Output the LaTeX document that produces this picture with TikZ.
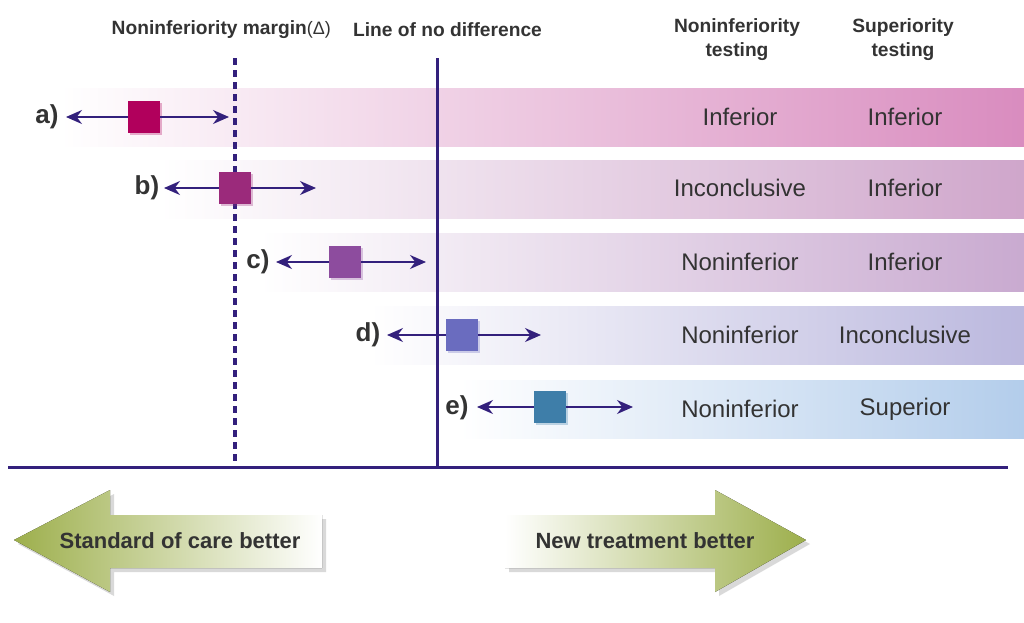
\documentclass[tikz,border=0pt]{standalone}
\usepackage{fontspec}
\setmainfont{Liberation Sans}
\usetikzlibrary{arrows.meta,shadows}
\definecolor{navy}{HTML}{33207C}
\definecolor{txt}{HTML}{333333}
\definecolor{leaf}{HTML}{9DAF4C}
\definecolor{bandA}{HTML}{D98CBF}
\definecolor{bandB}{HTML}{CFA6CB}
\definecolor{bandC}{HTML}{C9AAD0}
\definecolor{bandD}{HTML}{BBB8DE}
\definecolor{bandE}{HTML}{B3CDEB}
\definecolor{sqA}{HTML}{B1005C}
\definecolor{sqB}{HTML}{9B2A7B}
\definecolor{sqC}{HTML}{8D4C9E}
\definecolor{sqD}{HTML}{6A6CBF}
\definecolor{sqE}{HTML}{3E7EA9}
\begin{document}
\begin{tikzpicture}[x=0.5pt,y=-0.5pt,
    band/.style={left color=white,middle color=#1!35,right color=#1},
    est/.style={rectangle,inner sep=0pt,minimum size=16pt,fill=#1,
      drop shadow={shadow xshift=1.2pt,shadow yshift=-1.2pt,fill=#1,opacity=0.3}},
    ci/.style={navy,line width=0.8pt,-{Stealth[length=8pt,width=7pt]}},
    lab/.style={font=\fontsize{13}{13}\selectfont\bfseries,text=txt},
    cell/.style={font=\fontsize{12}{12}\selectfont,text=txt},
    hdr/.style={font=\fontsize{9.6}{12}\selectfont\bfseries,text=txt,align=center},
    big/.style={font=\fontsize{11}{12}\selectfont\bfseries,text=txt},
    bigarrow/.style={drop shadow={shadow xshift=2pt,shadow yshift=-2pt,fill=black,opacity=0.15}}
  ]
  \useasboundingbox (0,0) rectangle (1024,622);

  % bands
  \fill[band=bandA] (60,88) rectangle (1024,146);
  \fill[band=bandB] (160,160) rectangle (1024,218);
  \fill[band=bandC] (260,233) rectangle (1024,291);
  \fill[band=bandD] (370,306) rectangle (1024,364);
  \fill[band=bandE] (460,380) rectangle (1024,438);

  % headers
  \node[hdr,anchor=east] (hmargin) at (338,30) {Noninferiority margin{\mdseries\fontsize{9}{12}\selectfont(Δ)}};
  \node[hdr,anchor=west] (hline) at (346,30) {Line of no difference};
  \node[hdr] (hni) at (737,40) {Noninferiority\\testing};
  \node[hdr] (hsup) at (903,40) {Superiority\\testing};

  % margin, line of no difference, axis
  \coordinate (mTop) at (235,58);
  \coordinate (mBot) at (235,467);
  \coordinate (nTop) at (437,58);
  \coordinate (nBot) at (437,467);
  \coordinate (axL) at (8,467);
  \coordinate (axR) at (1008,467);
  \draw[navy,line width=1.6pt,dash pattern=on 3.5pt off 2.5pt] (mTop) -- (mBot);
  \draw[navy,line width=1.5pt] (nTop) -- (nBot);
  \draw[navy,line width=1.5pt] (axL) -- (axR);

  % a)
  \node[lab] (la) at (47,117) {a)};
  \node[est=sqA] (a) at (144,117) {};
  \coordinate (aL) at (66,117);
  \coordinate (aR) at (229,117);
  \draw[ci] (a) -- (aL);
  \draw[ci] (a) -- (aR);
  \node[cell] (aNI) at (740,117) {Inferior};
  \node[cell] (aSup) at (905,117) {Inferior};

  % b)
  \node[lab] (lb) at (147,188) {b)};
  \node[est=sqB] (b) at (235,188) {};
  \coordinate (bL) at (164,188);
  \coordinate (bR) at (316,188);
  \draw[ci] (b) -- (bL);
  \draw[ci] (b) -- (bR);
  \node[cell] (bNI) at (740,188) {Inconclusive};
  \node[cell] (bSup) at (905,188) {Inferior};

  % c)
  \node[lab] (lc) at (258,262) {c)};
  \node[est=sqC] (c) at (345,262) {};
  \coordinate (cL) at (276,262);
  \coordinate (cR) at (426,262);
  \draw[ci] (c) -- (cL);
  \draw[ci] (c) -- (cR);
  \node[cell] (cNI) at (740,262) {Noninferior};
  \node[cell] (cSup) at (905,262) {Inferior};

  % d)
  \node[lab] (ld) at (368,335) {d)};
  \node[est=sqD] (d) at (462,335) {};
  \coordinate (dL) at (387,335);
  \coordinate (dR) at (541,335);
  \draw[ci] (d) -- (dL);
  \draw[ci] (d) -- (dR);
  \node[cell] (dNI) at (740,335) {Noninferior};
  \node[cell] (dSup) at (905,335) {Inconclusive};

  % e)
  \node[lab] (le) at (457,408) {e)};
  \node[est=sqE] (e) at (550,407) {};
  \coordinate (eL) at (477,407);
  \coordinate (eR) at (633,407);
  \draw[ci] (e) -- (eL);
  \draw[ci] (e) -- (eR);
  \node[cell] (eNI) at (740,409) {Noninferior};
  \node[cell] (eSup) at (905,409) {Superior};

  % bottom arrows
  \fill[bigarrow,left color=leaf,right color=white]
    (14,540) -- (110,490) -- (110,515) -- (322,515) -- (322,568) -- (110,568) -- (110,592) -- cycle;
  \fill[bigarrow,left color=white,right color=leaf]
    (505,515) -- (715,515) -- (715,490) -- (806,540) -- (715,592) -- (715,568) -- (505,568) -- cycle;
  \node[big] (soc) at (180,541) {Standard of care better};
  \node[big] (newt) at (645,541) {New treatment better};
\end{tikzpicture}
\end{document}
